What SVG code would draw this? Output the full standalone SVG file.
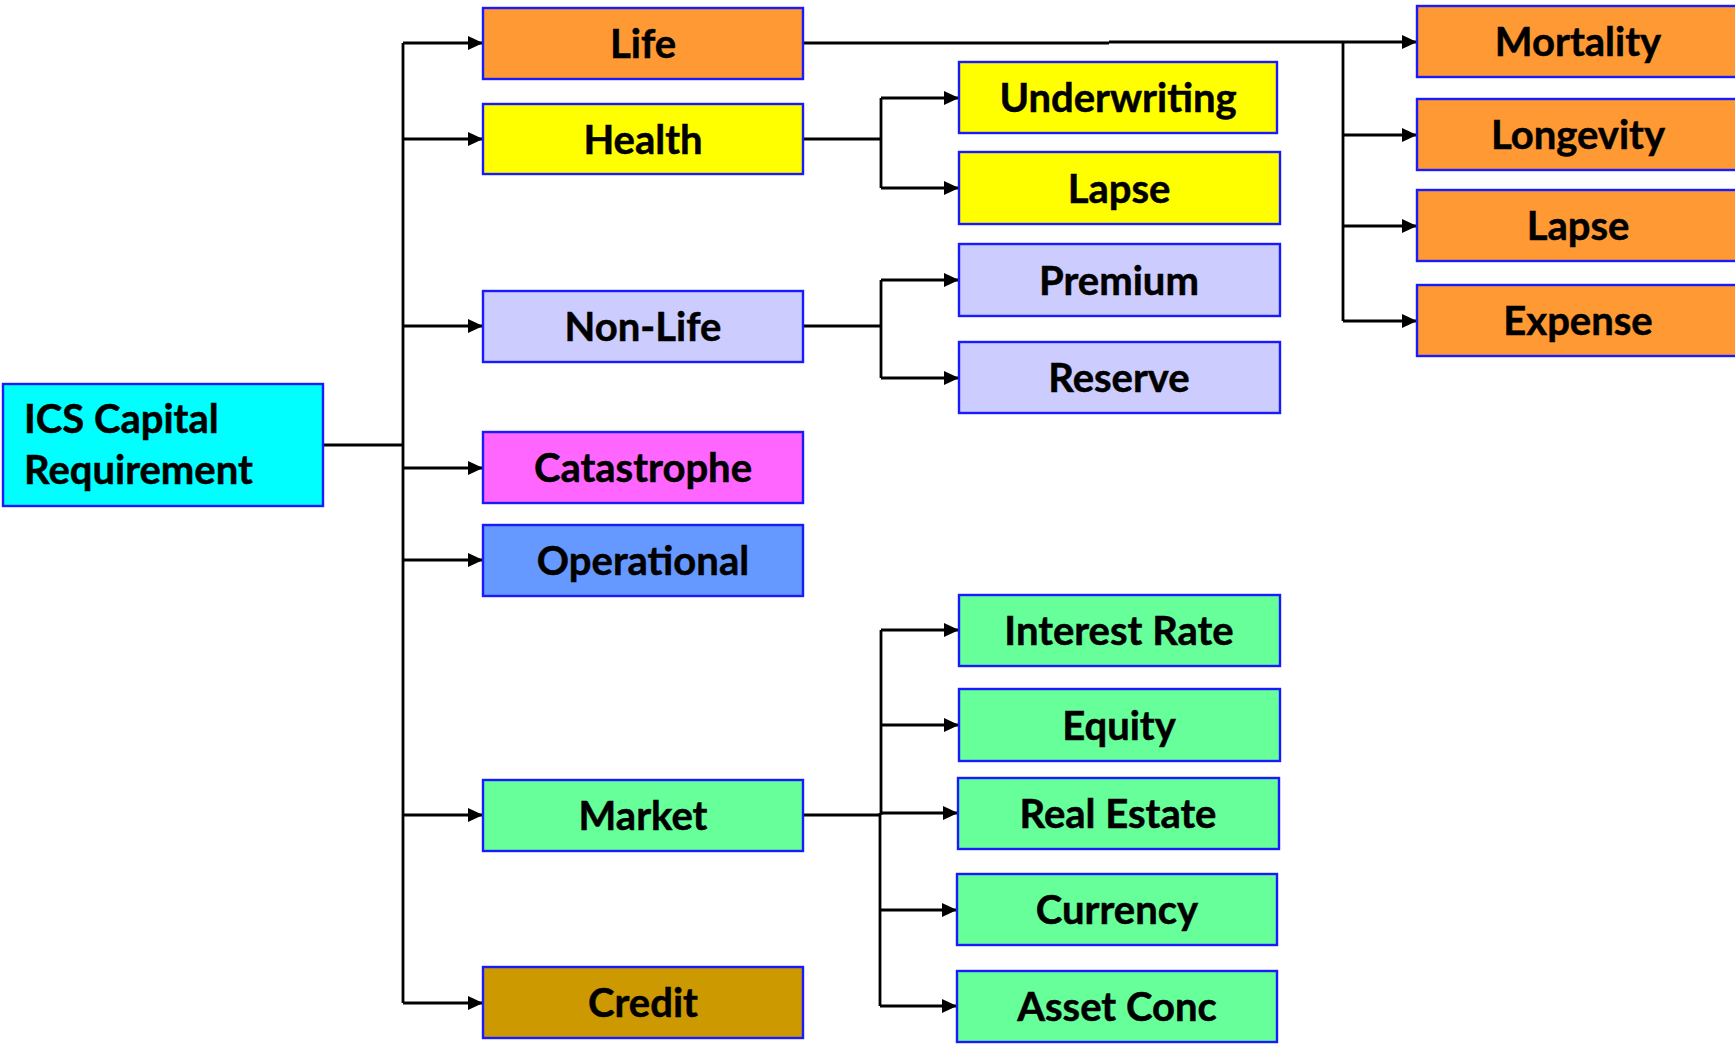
<svg xmlns="http://www.w3.org/2000/svg" width="1735" height="1045" viewBox="0 0 1735 1045">
  <defs>
    <marker id="arrow" markerUnits="userSpaceOnUse" markerWidth="16" markerHeight="16" refX="15" refY="8" orient="auto">
      <path d="M0,1 L15,8 L0,15 Z" fill="#000"/>
    </marker>
    <style>
      .box { stroke: #1a1aff; stroke-width: 2.4; }
      .lbl { font-family: Lato, "Liberation Sans", sans-serif; font-weight: bold; font-size: 40px; fill: #000; text-anchor: middle; stroke: #000; stroke-width: 0.5; }
      .lft { text-anchor: start; }
      .wire { fill: none; stroke: #000; stroke-width: 2.8; }
      .arr { marker-end: url(#arrow); }
      .life { fill: #ff9933; }
      .health { fill: #ffff00; }
      .nonlife { fill: #ccccff; }
      .cat { fill: #ff66ff; }
      .op { fill: #6699ff; }
      .mkt { fill: #66ff99; }
      .credit { fill: #cc9900; }
      .root { fill: #00ffff; }
    </style>
  </defs>
  <rect width="1735" height="1045" fill="#fff"/>

  <!-- connectors -->
  <g id="connectors">
    <path class="wire" d="M324,445 H403" stroke-width="3.4"/>
    <path class="wire" d="M403,43 V1003"/>
    <path class="wire arr" d="M403,43 H483"/>
    <path class="wire arr" d="M403,139 H483"/>
    <path class="wire arr" d="M403,326 H483"/>
    <path class="wire arr" d="M403,468 H483"/>
    <path class="wire arr" d="M403,560 H483"/>
    <path class="wire arr" d="M403,815 H483"/>
    <path class="wire arr" d="M403,1003 H483"/>

    <!-- life sub-risks -->
    <path class="wire" d="M803,43 H1109" stroke-width="3.4"/>
    <path class="wire arr" d="M1109,42 H1417" stroke-width="3.4"/>
    <path class="wire" d="M1343,42 V321"/>
    <path class="wire arr" d="M1343,135 H1417"/>
    <path class="wire arr" d="M1343,226 H1417"/>
    <path class="wire arr" d="M1343,321 H1417"/>

    <!-- health sub-risks -->
    <path class="wire" d="M803,139 H881"/>
    <path class="wire" d="M881,98 V188"/>
    <path class="wire arr" d="M881,98 H959"/>
    <path class="wire arr" d="M881,188 H959"/>

    <!-- non-life sub-risks -->
    <path class="wire" d="M803,326 H881"/>
    <path class="wire" d="M881,280 V378"/>
    <path class="wire arr" d="M881,280 H959"/>
    <path class="wire arr" d="M881,378 H959"/>

    <!-- market sub-risks -->
    <path class="wire" d="M803,815 H880" stroke-width="3.4"/>
    <path class="wire" d="M881,630 V815"/>
    <path class="wire" d="M880,813 V1006"/>
    <path class="wire arr" d="M881,630 H959"/>
    <path class="wire arr" d="M881,725 H959"/>
    <path class="wire arr" d="M881,813 H958"/>
    <path class="wire arr" d="M880,910 H957"/>
    <path class="wire arr" d="M880,1006 H957"/>
  </g>

  <!-- root -->
  <g id="ics">
    <rect class="box root" x="3" y="384" width="320" height="122"/>
    <text class="lbl lft" x="24" y="433">ICS Capital</text>
    <text class="lbl lft" x="24" y="484">Requirement</text>
  </g>

  <!-- first-level risk modules -->
  <g id="life">
    <rect class="box life" x="483" y="8" width="320" height="71"/>
    <text class="lbl" x="643" y="58">Life</text>
  </g>
  <g id="health">
    <rect class="box health" x="483" y="104" width="320" height="70"/>
    <text class="lbl" x="643" y="154">Health</text>
  </g>
  <g id="nonlife">
    <rect class="box nonlife" x="483" y="291" width="320" height="71"/>
    <text class="lbl" x="643" y="341">Non-Life</text>
  </g>
  <g id="catastrophe">
    <rect class="box cat" x="483" y="432" width="320" height="71"/>
    <text class="lbl" x="643" y="482">Catastrophe</text>
  </g>
  <g id="operational">
    <rect class="box op" x="483" y="525" width="320" height="71"/>
    <text class="lbl" x="643" y="575">Operational</text>
  </g>
  <g id="market">
    <rect class="box mkt" x="483" y="780" width="320" height="71"/>
    <text class="lbl" x="643" y="830">Market</text>
  </g>
  <g id="credit">
    <rect class="box credit" x="483" y="967" width="320" height="71"/>
    <text class="lbl" x="643" y="1017">Credit</text>
  </g>

  <!-- health sub-modules -->
  <g id="health-underwriting">
    <rect class="box health" x="959" y="62" width="318" height="71"/>
    <text class="lbl" x="1118" y="112">Underwriting</text>
  </g>
  <g id="health-lapse">
    <rect class="box health" x="959" y="152" width="321" height="72"/>
    <text class="lbl" x="1119" y="203">Lapse</text>
  </g>

  <!-- non-life sub-modules -->
  <g id="premium">
    <rect class="box nonlife" x="959" y="244" width="321" height="72"/>
    <text class="lbl" x="1119" y="295">Premium</text>
  </g>
  <g id="reserve">
    <rect class="box nonlife" x="959" y="342" width="321" height="71"/>
    <text class="lbl" x="1119" y="392">Reserve</text>
  </g>

  <!-- market sub-modules -->
  <g id="interest-rate">
    <rect class="box mkt" x="959" y="595" width="321" height="71"/>
    <text class="lbl" x="1119" y="645">Interest Rate</text>
  </g>
  <g id="equity">
    <rect class="box mkt" x="959" y="689" width="321" height="72"/>
    <text class="lbl" x="1119" y="740">Equity</text>
  </g>
  <g id="real-estate">
    <rect class="box mkt" x="958" y="778" width="321" height="71"/>
    <text class="lbl" x="1118" y="828">Real Estate</text>
  </g>
  <g id="currency">
    <rect class="box mkt" x="957" y="874" width="320" height="71"/>
    <text class="lbl" x="1117" y="924">Currency</text>
  </g>
  <g id="asset-conc">
    <rect class="box mkt" x="957" y="971" width="320" height="71"/>
    <text class="lbl" x="1117" y="1021">Asset Conc</text>
  </g>

  <!-- life sub-modules -->
  <g id="mortality">
    <rect class="box life" x="1417" y="6" width="322" height="71"/>
    <text class="lbl" x="1578" y="56">Mortality</text>
  </g>
  <g id="longevity">
    <rect class="box life" x="1417" y="99" width="322" height="71"/>
    <text class="lbl" x="1578" y="149">Longevity</text>
  </g>
  <g id="life-lapse">
    <rect class="box life" x="1417" y="190" width="322" height="71"/>
    <text class="lbl" x="1578" y="240">Lapse</text>
  </g>
  <g id="expense">
    <rect class="box life" x="1417" y="285" width="322" height="71"/>
    <text class="lbl" x="1578" y="335">Expense</text>
  </g>
</svg>
